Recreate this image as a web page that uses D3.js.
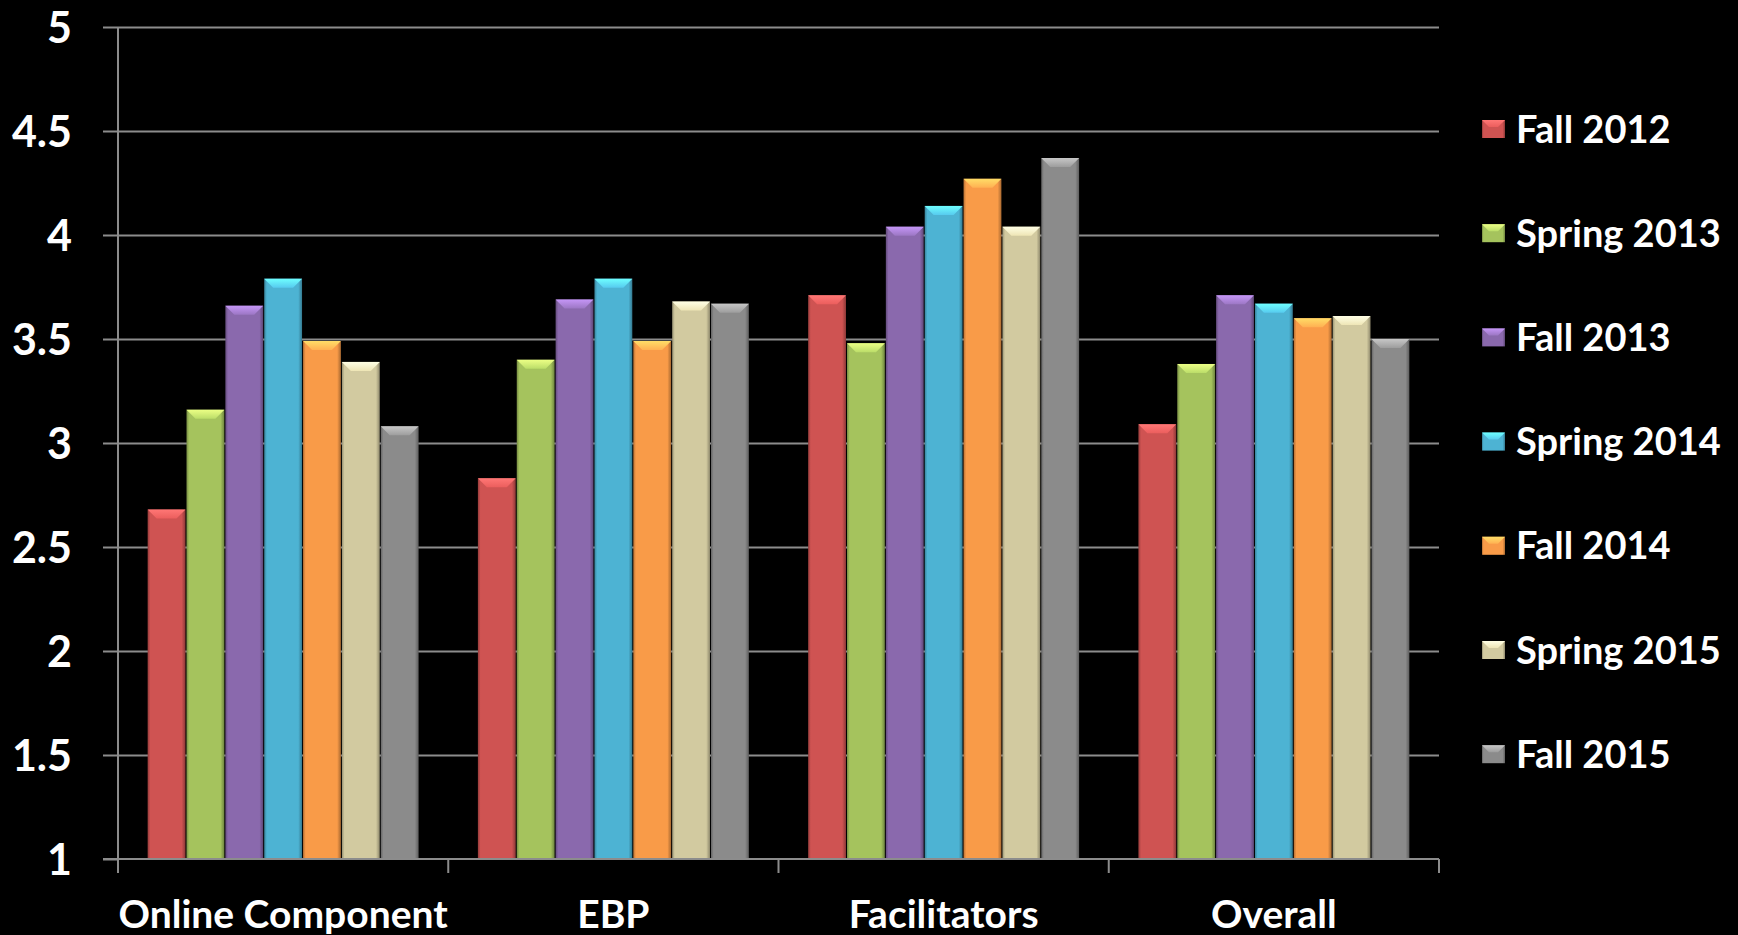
<!DOCTYPE html>
<html>
<head>
<meta charset="utf-8">
<script src="https://cdn.jsdelivr.net/npm/d3@7"></script>
<style>
  html, body { margin: 0; padding: 0; background: #000; }
  svg { display: block; }
  text { font-family: Lato, "Open Sans", sans-serif; font-weight: 700; fill: #fff; }
</style>
</head>
<body>
<div class="js-chart"></div>
<script>
// Chart values
const categories = ["Online Component", "EBP", "Facilitators", "Overall"];
const seriesNames = ["Fall 2012", "Spring 2013", "Fall 2013", "Spring 2014", "Fall 2014", "Spring 2015", "Fall 2015"];
const fall2012   = [2.68, 2.83, 3.71, 3.09];
const spring2013 = [3.16, 3.40, 3.48, 3.38];
const fall2013   = [3.66, 3.69, 4.04, 3.71];
const spring2014 = [3.79, 3.79, 4.14, 3.67];
const fall2014   = [3.49, 3.49, 4.27, 3.60];
const spring2015 = [3.39, 3.68, 4.04, 3.61];
const fall2015   = [3.08, 3.67, 4.37, 3.50];
const yTicks = [1, 1.5, 2, 2.5, 3, 3.5, 4, 4.5, 5];
const seriesColors = ["#cf5352", "#a5c35d", "#8a69ad", "#4db3d3", "#f99b48", "#d2caa0", "#8b8b8b"];

const seriesValues = [fall2012, spring2013, fall2013, spring2014, fall2014, spring2015, fall2015];

const width = 1738;
const height = 935;
const plot = { left: 118, right: 1439, top: 27, bottom: 859 };
const gridColor = "#8c8c8c";

const svg = d3.select(".js-chart")
  .append("svg")
  .attr("width", width)
  .attr("height", height);

svg.append("rect").attr("width", width).attr("height", height).attr("fill", "#000");

const x0 = d3.scaleBand()
  .domain(categories)
  .range([plot.left, plot.right])
  .padding(0);

// 150% gap between groups, bars touching inside a group
const x1 = d3.scaleBand()
  .domain(seriesNames)
  .range([0, x0.bandwidth()])
  .paddingInner(0)
  .paddingOuter(0.75);

const y = d3.scaleLinear()
  .domain([1, 5])
  .range([plot.bottom, plot.top]);

// gradients to fake the bevelled bars
const defs = svg.append("defs");
seriesNames.forEach(function (name, i) {
  var c = d3.color(seriesColors[i]);
  var side = defs.append("linearGradient")
    .attr("id", "side" + i)
    .attr("x1", "0").attr("x2", "1").attr("y1", "0").attr("y2", "0");
  side.append("stop").attr("offset", "0").attr("stop-color", c.darker(0.9));
  side.append("stop").attr("offset", "0.07").attr("stop-color", c);
  side.append("stop").attr("offset", "0.9").attr("stop-color", c);
  side.append("stop").attr("offset", "1").attr("stop-color", c.darker(1.1));

  var top = defs.append("linearGradient")
    .attr("id", "top" + i)
    .attr("x1", "0").attr("x2", "0").attr("y1", "0").attr("y2", "1");
  top.append("stop").attr("offset", "0").attr("stop-color", c.brighter(1.0));
  top.append("stop").attr("offset", "1").attr("stop-color", c.brighter(0.35));
});

// gridlines
svg.append("g")
  .attr("class", "grid")
  .attr("transform", "translate(" + plot.left + ",0)")
  .call(d3.axisLeft(y).tickValues(yTicks.slice(1)).tickSize(-(plot.right - plot.left)).tickFormat(""))
  .call(function (g) {
    g.select(".domain").remove();
    g.selectAll("line").attr("stroke", gridColor).attr("stroke-width", 2);
  });

// bars
const bevel = 9;
const groups = svg.append("g")
  .selectAll("g")
  .data(categories)
  .join("g")
  .attr("transform", function (d) { return "translate(" + x0(d) + ",0)"; });

const bars = groups.selectAll("g")
  .data(function (d, ci) {
    return seriesNames.map(function (s, si) {
      return { series: s, si: si, value: seriesValues[si][ci] };
    });
  })
  .join("g");

bars.append("rect")
  .attr("x", function (d) { return x1(d.series) + 0.5; })
  .attr("y", function (d) { return y(d.value); })
  .attr("width", x1.bandwidth() - 1)
  .attr("height", function (d) { return y(1) - y(d.value); })
  .attr("fill", function (d) { return "url(#side" + d.si + ")"; });

bars.append("path")
  .attr("d", function (d) {
    var xl = x1(d.series) + 0.5;
    var xr = xl + x1.bandwidth() - 1;
    var yt = y(d.value);
    return "M" + xl + "," + yt + "L" + xr + "," + yt +
      "L" + (xr - bevel) + "," + (yt + bevel) + "L" + (xl + bevel) + "," + (yt + bevel) + "Z";
  })
  .attr("fill", function (d) { return "url(#top" + d.si + ")"; });

// y axis with labels
svg.append("g")
  .attr("class", "y-axis")
  .attr("transform", "translate(" + plot.left + ",0)")
  .call(d3.axisLeft(y).tickValues(yTicks).tickSizeInner(15).tickSizeOuter(0).tickPadding(31).tickFormat(d3.format("")))
  .call(function (g) {
    g.select(".domain").attr("stroke", gridColor).attr("stroke-width", 2)
      .attr("d", "M0," + plot.top + "V" + (plot.bottom + 14));
    g.selectAll(".tick line").attr("stroke", gridColor).attr("stroke-width", 2);
    g.selectAll(".tick text")
      .attr("fill", "#fff")
      .style("font-size", "43px")
      .attr("dy", "0.36em");
  });

// x axis: ticks at the band edges, labels centred on the bands
const xAxis = svg.append("g")
  .attr("class", "x-axis")
  .attr("transform", "translate(0," + plot.bottom + ")")
  .call(d3.axisBottom(x0).tickSize(0).tickPadding(0))
  .call(function (g) {
    g.select(".domain").attr("stroke", gridColor).attr("stroke-width", 2)
      .attr("d", "M" + (plot.left - 15) + ",0H" + plot.right);
    g.selectAll(".tick text")
      .attr("fill", "#fff")
      .attr("y", 69)
      .attr("dy", 0)
      .style("font-size", "39px");
  });

xAxis.selectAll(".edge")
  .data(categories.map(function (c) { return x0(c) + x0.bandwidth(); }))
  .join("line")
  .attr("class", "edge")
  .attr("x1", function (d) { return d; })
  .attr("x2", function (d) { return d; })
  .attr("y1", 0)
  .attr("y2", 14)
  .attr("stroke", gridColor)
  .attr("stroke-width", 2);

// legend
const legend = svg.append("g")
  .attr("class", "legend")
  .selectAll("g")
  .data(seriesNames)
  .join("g")
  .attr("transform", function (d, i) { return "translate(1482," + (129 + i * 104.2) + ")"; });

legend.append("rect")
  .attr("x", 0)
  .attr("y", -9)
  .attr("width", 23)
  .attr("height", 18)
  .attr("fill", function (d, i) { return "url(#side" + i + ")"; });

legend.append("path")
  .attr("d", "M0,-9L23,-9L16,-2L7,-2Z")
  .attr("fill", function (d, i) { return "url(#top" + i + ")"; });

legend.append("text")
  .attr("x", 34)
  .attr("y", 0)
  .attr("dy", "0.36em")
  .style("font-size", "38px")
  .text(function (d) { return d; });
</script>
</body>
</html>
